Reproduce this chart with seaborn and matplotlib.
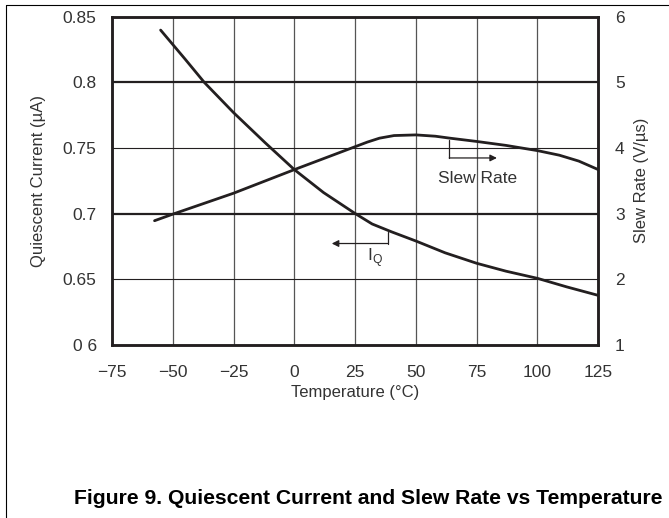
import numpy as np
import pandas as pd
import seaborn as sns
from matplotlib import pyplot as plt
from matplotlib.lines import Line2D

# data
iq_temp = [-55, -50, -45, -37, -25, -12, 0, 12, 25, 32, 40, 50, 62, 75, 87, 100, 112, 125]
iq_val = [0.840, 0.829, 0.818, 0.800, 0.777, 0.754, 0.7335, 0.716, 0.700, 0.692,
          0.686, 0.679, 0.670, 0.662, 0.656, 0.6505, 0.644, 0.6375]

sr_temp = [-57.5, -50, -25, 0, 25, 30, 35, 41, 50, 58, 64, 75, 87, 100, 109, 117, 125]
sr_val = [2.89, 2.99, 3.31, 3.67, 4.02, 4.09, 4.15, 4.19, 4.20, 4.18, 4.15, 4.10,
          4.04, 3.96, 3.89, 3.80, 3.67]

x_ticks = [-75, -50, -25, 0, 25, 50, 75, 100, 125]
x_labels = ["\u221275", "\u221250", "\u221225", "0", "25", "50", "75", "100", "125"]
left_ticks = [0.6, 0.65, 0.7, 0.75, 0.8, 0.85]
left_labels = ["0 6", "0.65", "0.7", "0.75", "0.8", "0.85"]
right_ticks = [1, 2, 3, 4, 5, 6]
right_labels = ["1", "2", "3", "4", "5", "6"]

sns.set_style("white")
plt.rcParams["font.family"] = ["Liberation Sans", "DejaVu Sans"]
plt.rcParams["axes.unicode_minus"] = True

ink = "#231f20"
txt = "#333333"
fs = 12.5

fig = plt.figure(figsize=(6.69, 5.18), dpi=100)
ax = fig.add_axes([0.1674, 0.3349, 0.8943 - 0.1674, 0.9672 - 0.3349])
ax2 = ax.twinx()

iq = pd.DataFrame({"Temp": iq_temp, "IQ": iq_val})
sr = pd.DataFrame({"Temp": sr_temp, "SR": sr_val})

# grid
for t in x_ticks[1:-1]:
    ax.axvline(t, color="#555555", lw=0.9, zorder=1)
for v in left_ticks[1:-1]:
    thick = v in (0.7, 0.8)
    ax.axhline(v, color=ink, lw=1.6 if thick else 0.8, zorder=1)

sns.lineplot(data=iq, x="Temp", y="IQ", ax=ax, color=ink, lw=2.0,
             sort=False, estimator=None, zorder=3)
sns.lineplot(data=sr, x="Temp", y="SR", ax=ax2, color=ink, lw=2.0,
             sort=False, estimator=None, zorder=3)

ax.set_xlim(-75, 125)
ax.set_ylim(0.6, 0.85)
ax2.set_ylim(1, 6)

ax.set_xticks(x_ticks)
ax.set_xticklabels(x_labels)
ax.set_yticks(left_ticks)
ax.set_yticklabels(left_labels)
ax2.set_yticks(right_ticks)
ax2.set_yticklabels(right_labels)

ax.tick_params(axis="x", length=0, pad=15, labelsize=fs, labelcolor=txt)
ax.tick_params(axis="y", length=0, pad=11, labelsize=fs, labelcolor=txt)
ax2.tick_params(axis="y", length=0, pad=12, labelsize=fs, labelcolor=txt)

ax.set_xlabel("Temperature (\u00b0C)", fontsize=12, color=txt, labelpad=3)
ax.set_ylabel("Quiescent Current (\u00b5A)", fontsize=12, color=txt, labelpad=12)
ax2.set_ylabel("Slew Rate (V/\u00b5s)", fontsize=12, color=txt, labelpad=7)

for a in (ax, ax2):
    for s in a.spines.values():
        s.set_color(ink)
        s.set_linewidth(1.8)

# callouts
ax.plot([63.7, 63.7], [0.7558, 0.7424], color=ink, lw=0.9)
ax.annotate("", xy=(83.3, 0.7424), xytext=(63.7, 0.7424),
            arrowprops=dict(arrowstyle="-|>", color=ink, lw=0.9,
                            mutation_scale=10, shrinkA=0, shrinkB=0))
ax.text(75.2, 0.7266, "Slew Rate", ha="center", va="center",
        fontsize=fs, color=txt)

ax.plot([38.4, 38.4], [0.6856, 0.6771], color=ink, lw=0.9)
ax.annotate("", xy=(15.4, 0.6771), xytext=(38.4, 0.6771),
            arrowprops=dict(arrowstyle="-|>", color=ink, lw=0.9,
                            mutation_scale=10, shrinkA=0, shrinkB=0))
ax.text(33.2, 0.6667, r"I$_{\mathregular{Q}}$", ha="center", va="center",
        fontsize=fs, color=txt)

# caption and page frame
fig.text(0.5505, 0.037, "Figure 9. Quiescent Current and Slew Rate vs Temperature",
         ha="center", va="center", fontsize=15.2, fontweight="bold", color="black")
fig.add_artist(Line2D([6 / 669, 1], [1 - 4.5 / 518, 1 - 4.5 / 518],
                      color="black", lw=0.8, transform=fig.transFigure))
fig.add_artist(Line2D([6 / 669, 6 / 669], [0, 1 - 4.5 / 518],
                      color="black", lw=0.8, transform=fig.transFigure))

plt.savefig("out.png", dpi=100)
plt.close()
